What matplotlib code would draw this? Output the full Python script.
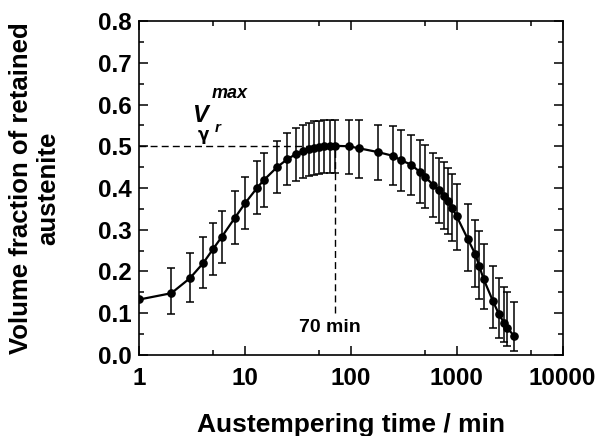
import matplotlib
matplotlib.use("Agg")
import matplotlib.pyplot as plt
from matplotlib.ticker import MultipleLocator, NullFormatter, FixedLocator

plt.rcParams['font.family'] = ['Liberation Sans', 'DejaVu Sans']
plt.rcParams['font.weight'] = 'bold'

# austempering time (min) and retained austenite fraction
time_min = [1, 2, 3, 4, 5, 6, 8, 10, 13, 15, 20, 25, 30, 35, 40, 45, 50, 55, 63, 70,
            95, 120, 180, 250, 300, 370, 450, 500, 600, 680, 750, 820, 900, 1000,
            1270, 1500, 1630, 1800, 2200, 2500, 2800, 3000, 3500]
v_gamma = [0.133, 0.148, 0.184, 0.220, 0.255, 0.283, 0.329, 0.364, 0.401, 0.419,
           0.450, 0.469, 0.481, 0.488, 0.493, 0.497, 0.499, 0.500, 0.501, 0.501,
           0.500, 0.495, 0.486, 0.477, 0.466, 0.456, 0.438, 0.427, 0.407, 0.395,
           0.381, 0.369, 0.353, 0.332, 0.278, 0.241, 0.213, 0.181, 0.129, 0.098,
           0.077, 0.065, 0.045]
err_lo = [0.0, 0.050, 0.056, 0.059, 0.063, 0.063, 0.062, 0.063, 0.063, 0.064,
          0.061, 0.063, 0.064, 0.065, 0.065, 0.065, 0.065, 0.065, 0.066, 0.066,
          0.066, 0.070, 0.068, 0.069, 0.073, 0.073, 0.075, 0.075, 0.076, 0.078,
          0.080, 0.080, 0.080, 0.080, 0.078, 0.078, 0.078, 0.072, 0.064, 0.057,
          0.047, 0.043, 0.035]
err_hi = [0.0, 0.061, 0.061, 0.063, 0.062, 0.062, 0.064, 0.063, 0.063, 0.064,
          0.062, 0.063, 0.062, 0.063, 0.063, 0.063, 0.061, 0.062, 0.063, 0.063,
          0.063, 0.068, 0.066, 0.071, 0.072, 0.072, 0.076, 0.077, 0.077, 0.078,
          0.081, 0.080, 0.080, 0.078, 0.083, 0.083, 0.084, 0.086, 0.085, 0.087,
          0.085, 0.085, 0.081]

t_max = 70
v_max = 0.5

fig = plt.figure(figsize=(6.02, 4.36), dpi=100)
ax = fig.add_axes([0.2317, 0.1858, 0.7027, 0.766])

ax.errorbar(time_min, v_gamma, yerr=[err_lo, err_hi], fmt='o-', color='black',
            ms=5.2, lw=1.6, elinewidth=1.1, capsize=2.6, capthick=1.1, zorder=3)

ax.plot([1, t_max], [v_max, v_max], color='black', lw=1.0, dashes=(5, 3), zorder=2)
ax.plot([t_max, t_max], [0.1, v_max], color='black', lw=1.0, dashes=(5, 3), zorder=2)

ax.set_xscale('log')
ax.set_xlim(1, 10000)
ax.set_ylim(0, 0.8)

ax.xaxis.set_major_locator(FixedLocator([1, 10, 100, 1000, 10000]))
ax.xaxis.set_minor_locator(FixedLocator([5, 50, 500, 5000]))
ax.xaxis.set_minor_formatter(NullFormatter())
ax.set_xticklabels(['1', '10', '100', '1000', '10000'])
ax.yaxis.set_major_locator(MultipleLocator(0.1))
ax.yaxis.set_minor_locator(MultipleLocator(0.05))
ax.yaxis.set_major_formatter(plt.FuncFormatter(lambda v, p: f"{v:.1f}"))

ax.tick_params(which='both', direction='in', top=True, right=True, width=1.1)
ax.tick_params(which='major', length=6.5)
ax.tick_params(which='minor', length=3.5)
ax.tick_params(axis='x', which='major', labelsize=17.5, pad=9)
ax.tick_params(axis='y', which='major', labelsize=17.5, pad=5.5)
for lab in ax.get_xticklabels() + ax.get_yticklabels():
    lab.set_fontweight('bold')
for s in ax.spines.values():
    s.set_linewidth(1.2)

ax.set_xlabel('Austempering time / min', fontsize=19, fontweight='bold')
ax.xaxis.set_label_coords(0.5, -0.175)
ax.set_ylabel('Volume fraction of retained\naustenite', fontsize=18.5,
              fontweight='bold', linespacing=1.15)
ax.yaxis.set_label_coords(-0.188, 0.5)

# V_gamma_r^max annotation
ax.text(0.125, 0.6976, 'V', transform=ax.transAxes, fontsize=17,
        fontweight='bold', fontstyle='italic', ha='left', va='baseline')
ax.text(0.171, 0.7695, 'max', transform=ax.transAxes, fontsize=13,
        fontweight='bold', fontstyle='italic', ha='left', va='baseline')
ax.text(0.137, 0.660, '\u03b3', transform=ax.transAxes, fontsize=12,
        family=['DejaVu Sans'], ha='left', va='center')
ax.text(0.1785, 0.6677, 'r', transform=ax.transAxes, fontsize=11,
        fontweight='bold', fontstyle='italic', ha='left', va='baseline')

ax.text(0.4504, 0.0689, '70 min', transform=ax.transAxes, fontsize=14,
        fontweight='bold', ha='center', va='baseline')

fig.savefig('out.png', dpi=100)
